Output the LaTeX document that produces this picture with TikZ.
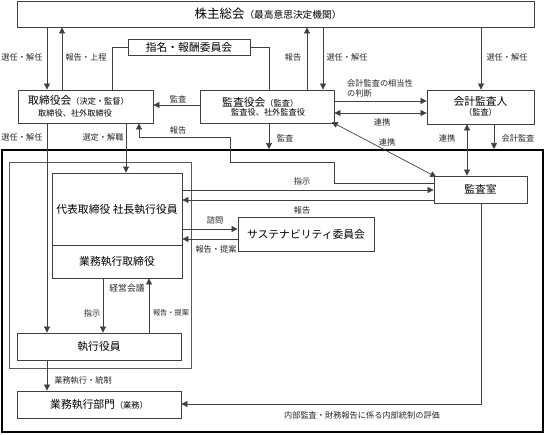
\documentclass[tikz,border=0pt]{standalone}
\usepackage{fontspec}
\setmainfont{Noto Sans CJK JP}
\usetikzlibrary{arrows.meta}
\begin{document}
\begin{tikzpicture}[x=1pt,y=-1pt,
  box/.style={draw=black!75, line width=0.8pt, inner sep=0pt, rectangle, font=\fontsize{10.8}{13}\selectfont},
  txt/.style={inner sep=0pt, font=\fontsize{10.8}{13}\selectfont},
  stxt/.style={inner sep=0pt, font=\fontsize{8.2}{10}\selectfont},
  lbl/.style={inner sep=0pt, font=\fontsize{8.2}{10}\selectfont, text=black!85},
  conn/.style={draw=black!75, line width=0.7pt},
  arr/.style={conn, -{Triangle[length=6pt,width=6pt]}},
  biarr/.style={conn, {Triangle[length=6pt,width=6pt]}-{Triangle[length=6pt,width=6pt]}},
]
\useasboundingbox (0,0) rectangle (545,435);

% column / row helper coordinates
\coordinate (x47) at (47,0);
\coordinate (x62) at (62,0);
\coordinate (x103) at (103,0);
\coordinate (x112) at (112,0);
\coordinate (x126) at (126,0);
\coordinate (x139) at (139,0);
\coordinate (x149) at (149,0);
\coordinate (x230) at (230,0);
\coordinate (x269) at (269,0);
\coordinate (x307) at (307,0);
\coordinate (x323) at (323,0);
\coordinate (x334) at (334,0);
\coordinate (x467) at (467,0);
\coordinate (x481) at (481,0);
\coordinate (x494) at (494,0);
\coordinate (y101) at (0,101);
\coordinate (y105) at (0,105);
\coordinate (y113) at (0,113);
\coordinate (y137) at (0,137);
\coordinate (y162) at (0,162);
\coordinate (y183) at (0,183);
\coordinate (y190) at (0,190);
\coordinate (y200) at (0,200);
\coordinate (y229) at (0,229);
\coordinate (y239) at (0,239);
\coordinate (y404) at (0,404);

% frames
\node[draw=black, line width=2pt, minimum width=541pt, minimum height=282pt, inner sep=0pt] (outer) at (272.5,291) {};
\node[draw=black!65, line width=0.8pt, minimum width=182pt, minimum height=205.5pt, inner sep=0pt] (inner) at (100,265.25) {};

% boxes
\node[box, minimum width=517pt, minimum height=26pt] (sh) at (275.5,14) {};
\node[txt] (shtxt) at (268,14) {{\fontsize{12.5}{14}\selectfont 株主総会}{\fontsize{9.7}{12}\selectfont （最高意思決定機関）}};
\node[box, minimum width=122pt, minimum height=16pt] (nom) at (189,47) {指名・報酬委員会};
\node[box, minimum width=135pt, minimum height=33pt] (bod) at (85.5,106.5) {};
\node[txt, anchor=west] (bod1) at (28,100) {取締役会{\fontsize{8.2}{10}\selectfont （決定・監督）}};
\node[stxt, anchor=west] (bod2) at (38,113) {取締役、社外取締役};
\node[box, minimum width=134pt, minimum height=33pt] (kas) at (267,106.5) {};
\node[txt, anchor=west] (kas1) at (222,102) {監査役会{\fontsize{8.2}{10}\selectfont （監査）}};
\node[stxt, anchor=west] (kas2) at (231,112) {監査役、社外監査役};
\node[box, minimum width=107pt, minimum height=34pt] (acc) at (480.5,107) {};
\node[txt] (acc1) at (480.5,101.5) {会計監査人};
\node[stxt] (acc2) at (480.5,112.5) {（監査）};
\node[box, minimum width=93pt, minimum height=27pt] (aud) at (480.5,189.5) {監査室};
\node[box, minimum width=130pt, minimum height=72pt] (ceo) at (117,209) {代表取締役 社長執行役員};
\node[box, minimum width=130pt, minimum height=33pt] (exd) at (117,261.5) {業務執行取締役};
\node[box, minimum width=136pt, minimum height=34pt] (sus) at (306,234) {サステナビリティ委員会};
\node[box, minimum width=164pt, minimum height=27pt] (eo) at (99,346.5) {執行役員};
\node[box, minimum width=164pt, minimum height=27pt] (dep) at (99,404.5) {業務執行部門{\fontsize{8.2}{10}\selectfont （業務）}};

% connectors: shareholders
\draw[arr] (sh.south -| x47) -- (bod.north -| x47);
\draw[arr] (bod.north -| x62) -- (sh.south -| x62);
\draw[arr] (kas.north -| x307) -- (sh.south -| x307);
\draw[arr] (sh.south -| x323) -- (kas.north -| x323);
\draw[arr] (sh.south -| x481) -- (acc.north -| x481);
% nomination committee
\draw[conn] (nom.west) -- (nom.west -| x112) -- (bod.north -| x112);
\draw[conn] (nom.east) -- (nom.east -| x269) -- (kas.north -| x269);
% audit board
\draw[arr] (kas.west |- y105) -- (bod.east |- y105);
\draw[arr] (kas.east |- y101) -- (acc.west |- y101);
\draw[biarr] (kas.east |- y113) -- (acc.west |- y113);
\draw[arr] (kas.south -| x269) -- (outer.north -| x269);
\draw[biarr, shorten <=-3pt, shorten >=-3pt] (kas.south east) -- (aud.north west);
% accounting auditor
\draw[biarr] (acc.south -| x467) -- (aud.north -| x467);
\draw[arr] (acc.south -| x494) -- (outer.north -| x494);
% report path from audit office to board
\draw[arr] (aud.west |- y183) -- (x334 |- y183) -- (x334 |- y162) -- (x230 |- y162) -- (x230 |- y137) -- (x139 |- y137) -- (bod.south -| x139);
% board to executives
\draw[arr] (bod.south -| x126) -- (ceo.north -| x126);
\draw[arr] (bod.south -| x47) -- (eo.north -| x47);
% ceo and audit office
\draw[arr] (ceo.east |- y190) -- (aud.west |- y190);
\draw[arr] (aud.west |- y200) -- (ceo.east |- y200);
% sustainability
\draw[arr] (ceo.east |- y229) -- (sus.west |- y229);
\draw[arr] (sus.west |- y239) -- (ceo.east |- y239);
% management meeting
\draw[arr] (exd.south -| x103) -- (eo.north -| x103);
\draw[arr] (eo.north -| x149) -- (exd.south -| x149);
% execution
\draw[arr] (eo.south -| x47) -- (dep.north -| x47);
\draw[arr] (aud.south -| x481) -- (x481 |- y404) -- (dep.east |- y404);

% labels
\node[lbl] (l1) at (22,57) {選任・解任};
\node[lbl] (l2) at (86,57) {報告・上程};
\node[lbl] (l3) at (293,57) {報告};
\node[lbl] (l4) at (347,57) {選任・解任};
\node[lbl] (l5) at (507,57) {選任・解任};
\node[lbl] (l6) at (178,99) {監査};
\node[lbl] (l7) at (178,130) {報告};
\node[lbl, anchor=west, align=left] (l8) at (347,88) {会計監査の相当性\\の判断};
\node[lbl] (l9) at (382,122) {連携};
\node[lbl] (l10) at (387,142) {連携};
\node[lbl] (l11) at (447,138) {連携};
\node[lbl] (l12) at (518,138) {会計監査};
\node[lbl] (l13) at (285,138) {監査};
\node[lbl] (l14) at (22,137) {選任・解任};
\node[lbl] (l15) at (103,137) {選定・解職};
\node[lbl] (l16) at (302,181) {指示};
\node[lbl] (l17) at (302,210) {報告};
\node[lbl] (l18) at (215,220) {諮問};
\node[lbl] (l19) at (216,249) {報告・提案};
\node[lbl, font=\fontsize{8.8}{10}\selectfont] (l20) at (127,288) {経営会議};
\node[lbl] (l21) at (92,313) {指示};
\node[lbl, font=\fontsize{7.2}{9}\selectfont] (l22) at (171,313) {報告・提案};
\node[lbl] (l23) at (83,380) {業務執行・統制};
\node[lbl] (l24) at (362,415) {内部監査・財務報告に係る内部統制の評価};
\end{tikzpicture}
\end{document}
